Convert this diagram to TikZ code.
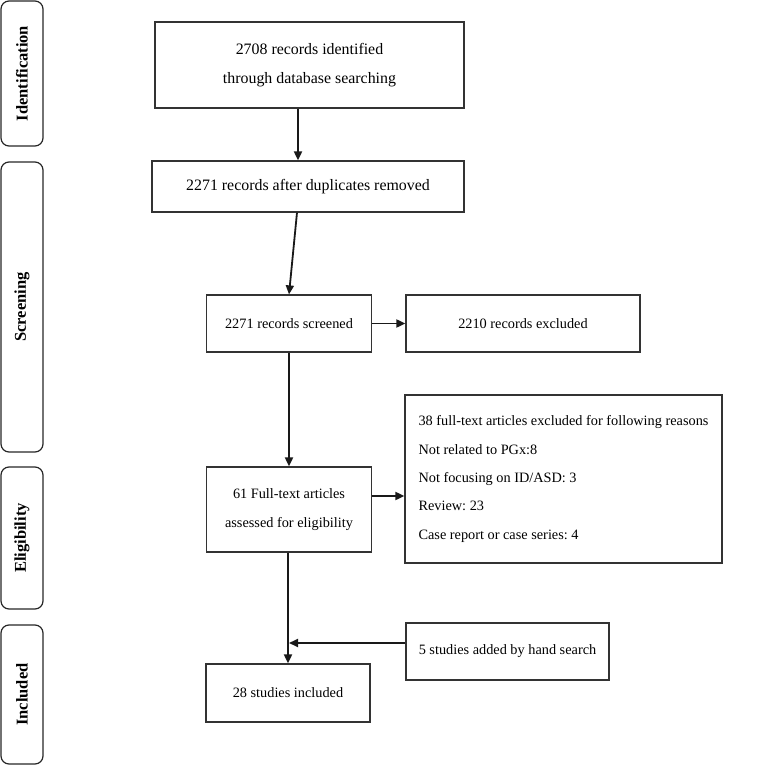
\documentclass[tikz,border=0pt]{standalone}
\usepackage{fontspec}
\setmainfont{Liberation Serif}
\usetikzlibrary{arrows.meta}
\begin{document}
\frenchspacing
\begin{tikzpicture}[x=1pt,y=-1pt,
  box/.style={draw=black!80, line width=1.2pt, align=center, inner sep=0pt,
    font=\fontsize{14.3}{28.4}\selectfont},
  bigbox/.style={box, font=\fontsize{15.9}{28.4}\selectfont},
  sidebox/.style={draw=black!85, line width=1.2pt, rounded corners=8pt, rotate=90,
    inner sep=0pt, minimum height=42pt, font=\fontsize{16.5}{20}\selectfont\bfseries},
  arr/.style={draw=black!90, line width=1.8pt, -{Triangle[length=9pt,width=8pt]}}]
\useasboundingbox (0,0) rectangle (774,765);
% side labels
\node[sidebox, minimum width=145pt] (sid) at (22,73.5) {Identification};
\node[sidebox, minimum width=290pt] (ssc) at (22,307) {Screening};
\node[sidebox, minimum width=142pt] (sel) at (22,538) {Eligibility};
\node[sidebox, minimum width=139pt] (sin) at (22,694.5) {Included};
% main boxes
\node[bigbox, minimum width=309pt, minimum height=86pt] (id) at (309.5,65) {2708 records identified\\through database searching};
\node[bigbox, minimum width=312pt, minimum height=51pt] (dup) at (308,186.5) {2271 records after duplicates removed};
\node[box, minimum width=165pt, minimum height=57pt] (scr) at (289,323.5) {2271 records screened};
\node[box, minimum width=234pt, minimum height=57pt] (exc) at (523,323.5) {2210 records excluded};
\node[box, minimum width=165pt, minimum height=85pt] (ft) at (289,509.5) {61 Full-text articles\\assessed for eligibility};
\node[box, align=left, inner xsep=11pt, minimum width=317pt, minimum height=168pt] (rea) at (563.5,479)
  {38 full-text articles excluded for following reasons\\Not related to PGx:8\\Not focusing on ID/ASD: 3\\Review: 23\\Case report or case series: 4};
\node[box, minimum width=203pt, minimum height=57pt] (hand) at (507.5,651.5) {5 studies added by hand search};
\node[box, minimum width=164pt, minimum height=58pt] (inc) at (288,693) {28 studies included};
% connectors
\draw[arr] ([xshift=-11.5pt]id.south) -- ([xshift=-11.5pt]id.south |- dup.north);
\draw[arr] ([xshift=-11pt]dup.south) -- (scr.north);
\draw[arr] (scr.east) -- (exc.west);
\draw[arr] (scr.south) -- (ft.north);
\draw[arr] ([yshift=13.5pt]ft.east) -- ([yshift=13.5pt]ft.east -| rea.west);
\draw[arr] ([xshift=-1pt]ft.south) -- ([xshift=-1pt]ft.south |- inc.north);
\draw[arr] ([yshift=8.5pt]hand.west) -- ([yshift=8.5pt]hand.west -| ft.south);
\end{tikzpicture}
\end{document}
